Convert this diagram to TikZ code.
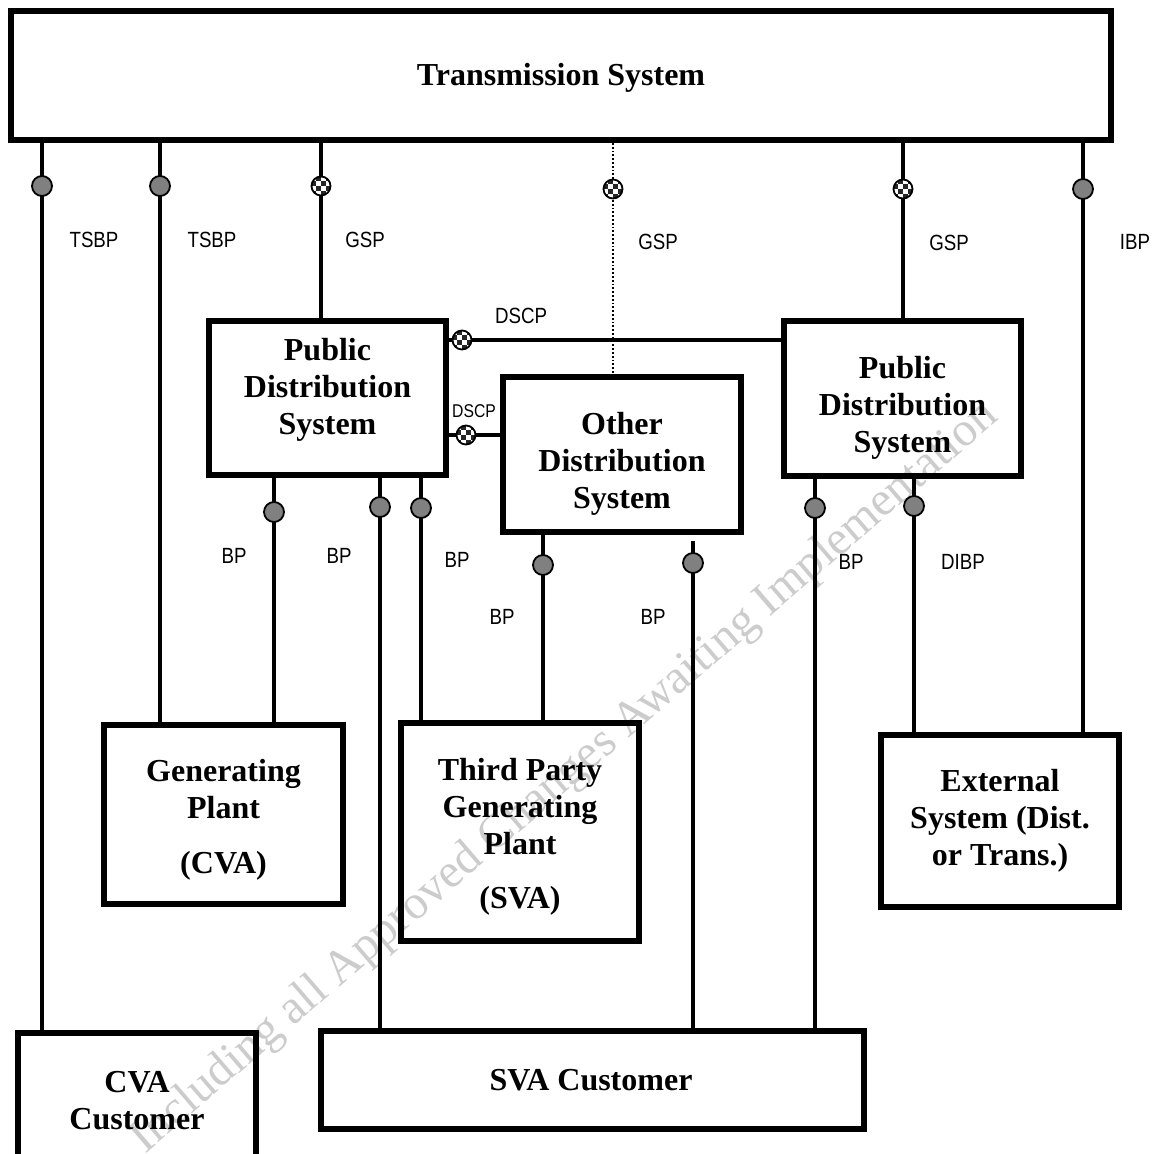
\documentclass[tikz,border=0pt]{standalone}
\usepackage{fontspec}
\setmainfont{Liberation Serif}
\newfontfamily\labfont[FakeStretch=0.85]{Liberation Sans}
\definecolor{markgrey}{RGB}{128,128,128}
\begin{document}
\begin{tikzpicture}[x=1pt,y=-1pt,
  box/.style={draw,line width=6pt,rectangle,inner sep=0pt},
  btxt/.style={align=center,inner sep=0pt,font=\bfseries\fontsize{32}{37}\selectfont},
  conn/.style={line width=4pt},
  dotconn/.style={line width=1.8pt,dash pattern=on 1.8pt off 2pt},
  lab/.style={inner sep=0pt,font=\labfont\fontsize{22}{24}\selectfont},
  smalllab/.style={inner sep=0pt,font=\labfont\fontsize{18.5}{20}\selectfont},
  bpm/.style={circle,draw,line width=1.8pt,fill=markgrey,minimum size=20pt,inner sep=0pt},
  chkm/.style={circle,draw,line width=1.8pt,fill=white,minimum size=19pt,inner sep=0pt,
    path picture={
      \foreach \a/\b in {0/0,0/2,1/1,1/3,2/0,2/2,3/1,3/3}
        \fill[black!85] ([shift={(-9.5pt+4.75pt*\a,-9.5pt+4.75pt*\b)}]path picture bounding box.center) rectangle ++(4.75pt,4.75pt);
    }},
  wmark/.style={inner sep=0pt,text=gray!40,font=\fontsize{48}{50}\selectfont}
]
\useasboundingbox (0,0) rectangle (1155,1153);

% watermark
\node[wmark,rotate=40.7] (wm) at (565,778) {Including all Approved Changes Awaiting Implementation};

% boxes
\node[box,minimum width=1100pt,minimum height=129pt] (ts) at (561,75.5) {};
\node[box,minimum width=237pt,minimum height=154pt] (pdsL) at (327.5,398) {};
\node[box,minimum width=238pt,minimum height=155pt] (ods) at (622,454.5) {};
\node[box,minimum width=237pt,minimum height=155pt] (pdsR) at (902.5,398.5) {};
\node[box,minimum width=239pt,minimum height=179pt] (gen) at (223.5,814.5) {};
\node[box,minimum width=238pt,minimum height=218pt] (tpg) at (520,832) {};
\node[box,minimum width=238pt,minimum height=172pt] (ext) at (1000,821) {};
\node[box,minimum width=238pt,minimum height=140pt] (cvac) at (137,1103) {};
\node[box,minimum width=543pt,minimum height=98pt] (svac) at (592.5,1080) {};

% box texts
\node[btxt] (tsT) at (561,78) {Transmission System};
\node[btxt] (pdsLT) at (327.5,390) {Public\\Distribution\\System};
\node[btxt] (odsT) at (622,464) {Other\\Distribution\\System};
\node[btxt] (pdsRT) at (902.5,407.5) {Public\\Distribution\\System};
\node[btxt] (genT) at (223.5,820) {Generating\\Plant\\[18pt](CVA)};
\node[btxt] (tpgT) at (520,836.5) {Third Party\\Generating\\Plant\\[17pt](SVA)};
\node[btxt] (extT) at (1000,821) {External\\System (Dist.\\or Trans.)};
\node[btxt] (cvacT) at (137,1101) {CVA\\Customer};
\node[btxt] (svacT) at (591,1080) {SVA Customer};

% x / y positions of connectors
\coordinate (XA) at (42,0);
\coordinate (XB) at (160,0);
\coordinate (XC) at (321,0);
\coordinate (XD) at (613,0);
\coordinate (XE) at (903,0);
\coordinate (XF) at (1083,0);
\coordinate (XG) at (274,0);
\coordinate (XH) at (380,0);
\coordinate (XI) at (421,0);
\coordinate (XJ) at (543,0);
\coordinate (XK) at (693,0);
\coordinate (XL) at (815,0);
\coordinate (XM) at (914,0);
\coordinate (YA) at (0,340);
\coordinate (YB) at (0,435);

% connectors from transmission system
\draw[conn] (ts.south -| XA) -- (cvac.north -| XA);
\draw[conn] (ts.south -| XB) -- (gen.north -| XB);
\draw[conn] (ts.south -| XC) -- (pdsL.north -| XC);
\draw[dotconn] (ts.south -| XD) -- (ods.north -| XD);
\draw[conn] (ts.south -| XE) -- (pdsR.north -| XE);
\draw[conn] (ts.south -| XF) -- (ext.north -| XF);
% DSCP connectors
\draw[conn] (pdsL.east |- YA) -- (pdsR.west |- YA);
\draw[conn] (pdsL.east |- YB) -- (ods.west |- YB);
% lower connectors
\draw[conn] (pdsL.south -| XG) -- (gen.north -| XG);
\draw[conn] (pdsL.south -| XH) -- (svac.north -| XH);
\draw[conn] (pdsL.south -| XI) -- (tpg.north -| XI);
\draw[conn] (ods.south -| XJ) -- (tpg.north -| XJ);
\draw[conn] ([yshift=-6pt]ods.south -| XK) -- (svac.north -| XK);
\draw[conn] (pdsR.south -| XL) -- (svac.north -| XL);
\draw[conn] (pdsR.south -| XM) -- (ext.north -| XM);

% markers
\node[bpm] (mA) at (42,186) {};
\node[bpm] (mB) at (160,186) {};
\node[chkm] (mC) at (321,186) {};
\node[chkm] (mD) at (613,189) {};
\node[chkm] (mE) at (903,189) {};
\node[bpm] (mF) at (1083,189) {};
\node[chkm] (mY1) at (462,340) {};
\node[chkm] (mY2) at (466,435) {};
\node[bpm] (mG) at (274,512) {};
\node[bpm] (mH) at (380,507) {};
\node[bpm] (mI) at (421,508) {};
\node[bpm] (mJ) at (543,565) {};
\node[bpm] (mK) at (693,563) {};
\node[bpm] (mL) at (815,508) {};
\node[bpm] (mM) at (914,506) {};

% labels
\node[lab] (l1) at (94,240) {TSBP};
\node[lab] (l2) at (212,240) {TSBP};
\node[lab] (l3) at (365,240) {GSP};
\node[lab] (l4) at (658,242) {GSP};
\node[lab] (l5) at (949,243) {GSP};
\node[lab] (l6) at (1135,242) {IBP};
\node[lab] (l7) at (521,316) {DSCP};
\node[smalllab] (l8) at (474,411) {DSCP};
\node[lab] (l9) at (234,556) {BP};
\node[lab] (l10) at (339,556) {BP};
\node[lab] (l11) at (457,560) {BP};
\node[lab] (l12) at (502,617) {BP};
\node[lab] (l13) at (653,617) {BP};
\node[lab] (l14) at (851,562) {BP};
\node[lab] (l15) at (963,562) {DIBP};
\end{tikzpicture}
\end{document}
